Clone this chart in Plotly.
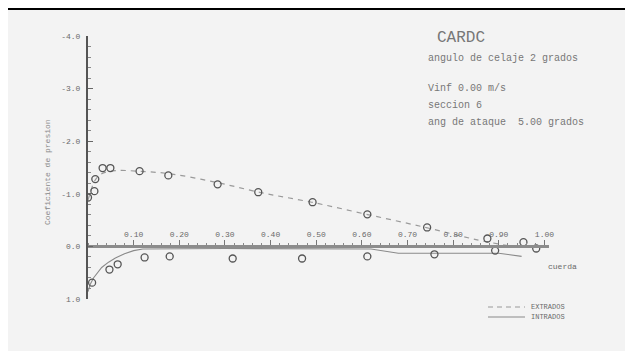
import plotly.graph_objects as go

# --- data ---
ext_x = [0.0, 0.014, 0.016, 0.032, 0.049, 0.113, 0.176, 0.284, 0.373, 0.492, 0.612, 0.743, 0.875, 0.954, 0.982]
ext_cp = [-0.93, -1.05, -1.28, -1.49, -1.49, -1.43, -1.35, -1.18, -1.03, -0.84, -0.61, -0.36, -0.15, -0.08, 0.04]

int_x = [0.009, 0.047, 0.065, 0.124, 0.179, 0.317, 0.469, 0.612, 0.759, 0.892]
int_cp = [0.69, 0.44, 0.34, 0.21, 0.19, 0.23, 0.23, 0.19, 0.15, 0.08]

ext_curve_x = [0.0, 0.006, 0.015, 0.03, 0.06, 0.11, 0.18, 0.28, 0.38, 0.49, 0.61, 0.74, 0.85, 0.93]
ext_curve_cp = [-0.88, -1.05, -1.25, -1.38, -1.44, -1.43, -1.38, -1.22, -1.02, -0.84, -0.61, -0.36, -0.13, 0.0]

int_curve_x = [0.0, 0.005, 0.012, 0.02, 0.03, 0.045, 0.06, 0.08, 0.1, 0.12, 0.3, 0.62, 0.68, 0.9, 0.95]
int_curve_cp = [0.86, 0.72, 0.6, 0.5, 0.4, 0.3, 0.22, 0.14, 0.08, 0.05, 0.04, 0.05, 0.13, 0.13, 0.19]

x_ticks = [0.1, 0.2, 0.3, 0.4, 0.5, 0.6, 0.7, 0.8, 0.9, 1.0]
x_tick_labels = ["0.10", "0.20", "0.30", "0.40", "0.50", "0.60", "0.70", "0.80", "0.90", "1.00"]
y_ticks = [-4.0, -3.0, -2.0, -1.0, 0.0, 1.0]
y_tick_labels = ["-4.0", "-3.0", "-2.0", "-1.0", "0.0", "1.0"]

# page is drawn with an 8px body margin, so the figure is offset by 8px
OFF = 8
W, H = 633 - 2 * OFF, 359 - 2 * OFF
ML, MT = 88 - OFF, 36 - OFF
MR = W - (549 - OFF)
MB = H - (299 - OFF)
PW, PH = W - ML - MR, H - MT - MB

def px(xp):
    return (xp - OFF - ML) / PW

def py(yp):
    return (H - MB - (yp - OFF)) / PH

FONT = "Liberation Mono"
TXT = "#6a6a6a"

fig = go.Figure()
fig.add_trace(go.Scatter(x=ext_curve_x, y=ext_curve_cp, mode="lines", name="EXTRADOS", showlegend=False,
                         line=dict(color="#9a9a9a", width=1.2, dash="5px,5px", shape="spline")))
fig.add_trace(go.Scatter(x=int_curve_x, y=int_curve_cp, mode="lines", name="INTRADOS", showlegend=False,
                         line=dict(color="#8a8a8a", width=1.1)))
fig.add_trace(go.Scatter(x=ext_x, y=ext_cp, mode="markers", showlegend=False,
                         marker=dict(symbol="circle-open", size=7, color="#555", line=dict(width=1.3))))
fig.add_trace(go.Scatter(x=int_x, y=int_cp, mode="markers", showlegend=False,
                         marker=dict(symbol="circle-open", size=7, color="#555", line=dict(width=1.3))))

def ann(x, y, text, size, color="#777", xanchor="left", angle=0):
    return dict(x=px(x), y=py(y), xref="paper", yref="paper", xanchor=xanchor, yanchor="middle",
                text=text, showarrow=False, textangle=angle,
                font=dict(size=size, family=FONT, color=color))

fig.update_layout(
    width=W, height=H,
    margin=dict(l=ML, r=MR, t=MT, b=MB, autoexpand=False),
    paper_bgcolor="#f3f3f3", plot_bgcolor="rgba(0,0,0,0)",
    font=dict(family=FONT, color=TXT, size=8),
    showlegend=False,
    xaxis=dict(range=[0, 1.01], anchor="free", position=0.2, side="top",
               showline=True, linewidth=3, linecolor="#8c8c8c",
               showgrid=False, zeroline=False,
               tickvals=x_ticks, ticktext=x_tick_labels, ticks="outside", ticklen=5,
               tickcolor="#777", tickfont=dict(size=8, color=TXT, family=FONT),
               minor=dict(dtick=0.02, tick0=0, ticks="outside", ticklen=2, tickcolor="#888")),
    yaxis=dict(range=[1.0, -4.0], showline=True, linewidth=2, linecolor="#555",
               showgrid=False, zeroline=False,
               tickvals=y_ticks, ticktext=y_tick_labels, ticks="inside", ticklen=5,
               ticklabelstandoff=4,
               tickcolor="#666", tickfont=dict(size=8, color=TXT, family=FONT),
               minor=dict(dtick=0.2, tick0=0, ticks="inside", ticklen=3, tickcolor="#888")),
    shapes=[
        # frame top edge
        dict(type="line", xref="paper", yref="paper", x0=px(0), x1=px(640), y0=py(8), y1=py(8),
             line=dict(color="black", width=4)),
        # legend samples
        dict(type="line", xref="paper", yref="paper", x0=px(488), x1=px(525), y0=py(307), y1=py(307),
             line=dict(color="#9a9a9a", width=1.2, dash="5px,4px")),
        dict(type="line", xref="paper", yref="paper", x0=px(488), x1=px(525), y0=py(317), y1=py(317),
             line=dict(color="#8a8a8a", width=1.1)),
    ],
    annotations=[
        ann(435, 38, "CARDC", 16),
        ann(426, 59, "angulo de celaje 2 grados", 10),
        ann(426, 89, "Vinf 0.00 m/s", 10),
        ann(426, 105, "seccion 6", 10),
        ann(426, 122, "ang de ataque  5.00 grados", 10),
        ann(562, 266, "cuerda", 8, TXT, "center"),
        ann(47, 172, "Coeficiente de presion", 8, "#888", "center", -90),
        ann(529, 307, "EXTRADOS", 7, TXT),
        ann(529, 317, "INTRADOS", 7, TXT),
    ],
)

fig.write_html("out.html")
